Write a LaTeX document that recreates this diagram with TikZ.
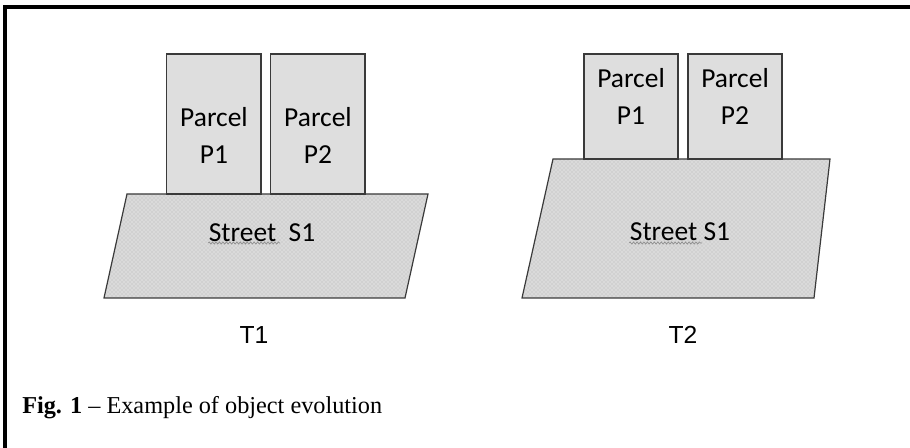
\documentclass[tikz,border=0pt]{standalone}
\usepackage{fontspec}
\setmainfont{Liberation Serif}
\newfontfamily\calib{Carlito}
\newfontfamily\arialf{Liberation Sans}
\usetikzlibrary{decorations.pathmorphing,patterns}
\definecolor{edge}{HTML}{3A3A3A}
\definecolor{parcelfill}{HTML}{DEDEDE}
\definecolor{streetfill}{HTML}{DADADA}
\definecolor{grain}{HTML}{B4B4B4}
\definecolor{squig}{HTML}{8C8C8C}
\tikzset{
  frame/.style={draw=black, line width=2.5pt},
  parcel/.style={draw=edge, fill=parcelfill, line width=0.9pt},
  street/.style={draw=edge, line width=0.9pt, line join=miter,
    preaction={fill=streetfill}, pattern=crosshatch dots, pattern color=grain},
  lab/.style={font=\calib\fontsize{20.6}{27.7}\selectfont, align=center, inner sep=0pt},
  tlab/.style={font=\arialf\fontsize{18.5}{20}\selectfont, inner sep=0pt},
  wavy/.style={draw=squig, line width=0.5pt, decorate,
    decoration={snake, segment length=2.6pt, amplitude=0.8pt}},
}

\begin{document}
\begin{tikzpicture}[x=0.75pt, y=-0.75pt]
  \useasboundingbox (0,0) rectangle (910,448);
  % frame: top and left rule only
  \draw[frame] (910,7) -- (5,7) -- (5,448);

  % T1: parcels on top of the street
  \coordinate (A1) at (127,194);
  \coordinate (B1) at (428,194);
  \coordinate (C1) at (405,298);
  \coordinate (D1) at (104,298);
  \draw[street] (A1) -- (B1) -- (C1) -- (D1) -- cycle;
  \draw[parcel] (166.5,54) rectangle (261,194);
  \draw[parcel] (270.5,54) rectangle (365,194);
  \node[lab] (p11) at (214,135.5) {Parcel\\P1};
  \node[lab] (p12) at (318,135.5) {Parcel\\P2};
  \node[lab] (s1) at (262,233) {Street\ \ S1};
  \draw[wavy] (208,243) -- (280,243);
  \node[tlab] (t1) at (254,335) {T1};

  % T2: wider street, shorter parcels
  \coordinate (A2) at (553,159);
  \coordinate (B2) at (830,159);
  \coordinate (C2) at (814,298);
  \coordinate (D2) at (522,298);
  \draw[street] (A2) -- (B2) -- (C2) -- (D2) -- cycle;
  \draw[parcel] (584,54) rectangle (678,159);
  \draw[parcel] (688,54) rectangle (782,159);
  \node[lab] (p21) at (631,96.5) {Parcel\\P1};
  \node[lab] (p22) at (735,96.5) {Parcel\\P2};
  \node[lab] (s2) at (680,232) {Street S1};
  \draw[wavy] (629,243) -- (702,243);
  \node[tlab] (t2) at (683,335) {T2};

  % caption
  \node[anchor=base west, inner sep=0pt, font=\fontsize{18.2}{20}\selectfont] (cap) at (22,414)
    {\textbf{Fig. 1} -- Example of object evolution};
\end{tikzpicture}
\end{document}
